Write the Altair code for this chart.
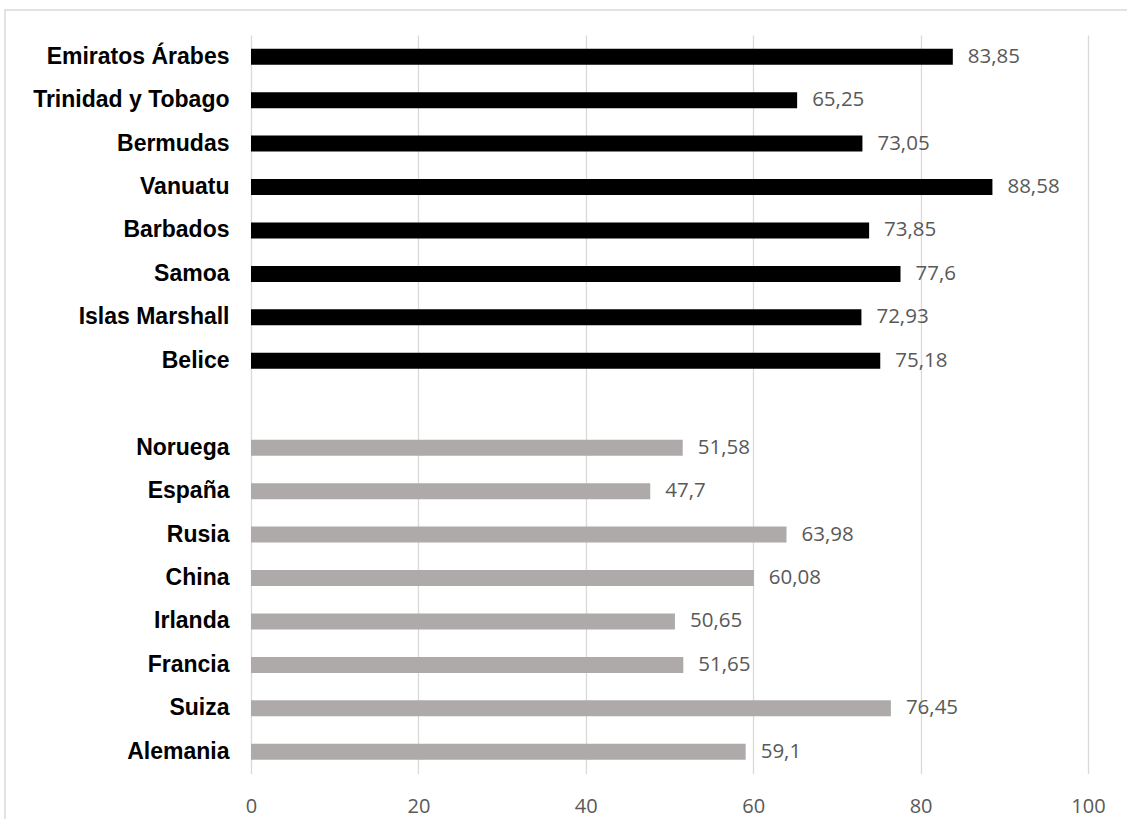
import altair as alt
import pandas as pd

countries = ["Emiratos Árabes", "Trinidad y Tobago", "Bermudas", "Vanuatu", "Barbados",
             "Samoa", "Islas Marshall", "Belice",
             "Noruega", "España", "Rusia", "China", "Irlanda", "Francia", "Suiza", "Alemania"]
values = [83.85, 65.25, 73.05, 88.58, 73.85, 77.6, 72.93, 75.18,
          51.58, 47.7, 63.98, 60.08, 50.65, 51.65, 76.45, 59.1]
groups = ["A"] * 8 + ["B"] * 8
gap = " "
order = countries[:8] + [gap] + countries[8:]
x_ticks = [0, 20, 40, 60, 80, 100]

df = pd.DataFrame({"country": countries, "value": values, "group": groups})
df["label"] = [str(v).replace(".", ",") for v in values]

W, H = 837, 738.5

y_enc = alt.Y("country:N", sort=order,
              scale=alt.Scale(domain=order, paddingInner=0.632, paddingOuter=0.316),
              axis=alt.Axis(title=None, domain=False, ticks=False, grid=False,
                            labelFont="Liberation Sans", labelFontWeight="bold",
                            labelFontSize=23, labelColor="#000000", labelPadding=22,
                            labelLimit=300))
x_enc = alt.X("value:Q", scale=alt.Scale(domain=[0, 100], nice=False),
              axis=alt.Axis(title=None, values=x_ticks, domain=False, ticks=False,
                            grid=True, gridColor="#d9d9d9", gridWidth=1.3,
                            labelFont="Open Sans", labelFontSize=20, labelFlush=False,
                            labelColor="#595959", labelPadding=23))

bars = alt.Chart(df).mark_bar().encode(
    y=y_enc, x=x_enc,
    color=alt.Color("group:N", scale=alt.Scale(domain=["A", "B"], range=["#000000", "#AEAAAA"]),
                    legend=None),
)

texts = alt.Chart(df).mark_text(align="left", baseline="middle", dx=15,
                                font="Open Sans", fontSize=20.5, color="#595959").encode(
    y=alt.Y("country:N", sort=order), x="value:Q", text="label:N"
)

border = alt.Chart(alt.Data(values=[{}])).mark_rect(
    fill=None, stroke="#d9d9d9", strokeWidth=1.5
).encode(x=alt.value(-246), x2=alt.value(1127 - 251 + 20),
         y=alt.value(10 - 35), y2=alt.value(819 - 35 + 20))

chart = alt.layer(border, bars, texts).properties(
    width=W, height=H,
    autosize=alt.AutoSizeParams(type="none"),
    padding={"left": 251, "top": 35, "right": 39, "bottom": 45},
).configure(background="white").configure_view(stroke=None)

chart.save("out.html", embed_options={"renderer": "svg", "actions": False})
